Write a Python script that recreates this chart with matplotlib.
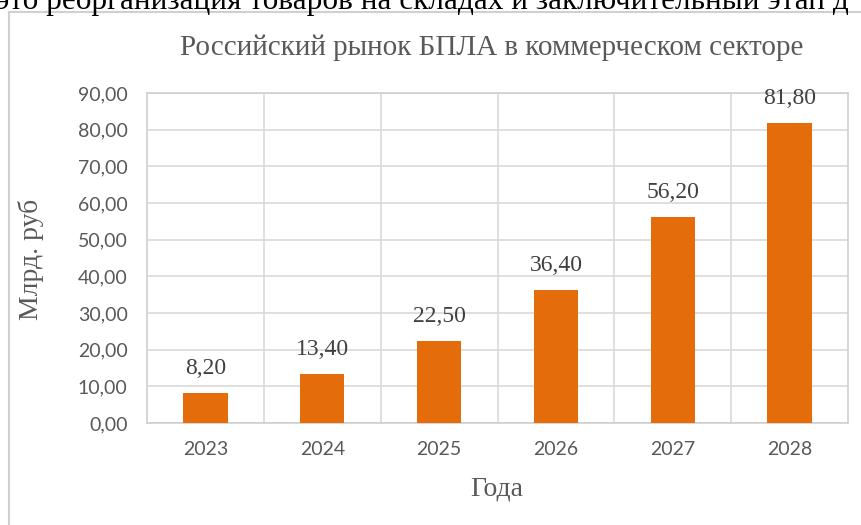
import matplotlib
matplotlib.use("Agg")
import matplotlib.pyplot as plt
from matplotlib.patches import Rectangle
from matplotlib.ticker import FixedLocator

years = ["2023", "2024", "2025", "2026", "2027", "2028"]
values = [8.20, 13.40, 22.50, 36.40, 56.20, 81.80]
yticks = [0, 10, 20, 30, 40, 50, 60, 70, 80, 90]

title = "Российский рынок БПЛА в коммерческом секторе"
ylabel = "Млрд. руб"
xlabel = "Года"
page_text = "это реорганизация товаров на складах и заключительный этап д"

W, H = 861, 525
fig = plt.figure(figsize=(W / 100, H / 100), dpi=100)
fig.patch.set_facecolor("white")

# chart frame (Word/Excel chart object border)
fig.patches.append(Rectangle((9 / W, -0.1), 1.2, 1.1 - 12 / H, transform=fig.transFigure,
                             fill=False, edgecolor="#d0d0d0", linewidth=1.5, zorder=0))
# page text partially hidden at top
fig.text(-4 / W, 1 - 9 / H, page_text, fontsize=22.5, family="Liberation Serif",
         color="black", ha="left", va="baseline")

ax = fig.add_axes([147 / W, 1 - 423 / H, 701 / W, 330 / H])
x = list(range(len(years)))
bars = ax.bar(x, values, width=0.38, color="#E46C0A", zorder=3)

ax.set_xlim(-0.5, len(years) - 0.5)
ax.set_ylim(0, 90)
ax.set_yticks(yticks)
ax.set_yticklabels([f"{v:.2f}".replace(".", ",") for v in yticks])
ax.set_xticks(x)
ax.set_xticklabels(years)
ax.xaxis.set_minor_locator(FixedLocator([i + 0.5 for i in range(len(years) - 1)]))
ax.grid(axis="y", which="major", color="#d9d9d9", linewidth=1.2, zorder=0)
ax.grid(axis="x", which="minor", color="#d9d9d9", linewidth=1.2, zorder=0)
ax.tick_params(axis="both", which="both", length=0)
ax.tick_params(axis="y", pad=14, labelsize=14, labelcolor="#595959")
ax.tick_params(axis="x", pad=13, labelsize=14, labelcolor="#595959")
for lab in ax.get_xticklabels() + ax.get_yticklabels():
    lab.set_family("Lato")
for s in ax.spines.values():
    s.set_color("#d0d0d0")
    s.set_linewidth(1.2)

for b, v in zip(bars, values):
    ax.annotate(f"{v:.2f}".replace(".", ","), (b.get_x() + b.get_width() / 2, v),
                xytext=(0, 10), textcoords="offset points", ha="center", va="bottom",
                fontsize=17, family="Liberation Serif", color="#404040")

fig.text(492 / W, 1 - 48 / H, title, fontsize=21, family="Liberation Serif",
         color="#595959", ha="center", va="center")
fig.text(31 / W, 1 - 259 / H, ylabel, fontsize=20, family="Liberation Serif",
         color="#595959", ha="center", va="center", rotation=90)
fig.text(497 / W, 1 - 489 / H, xlabel, fontsize=20, family="Liberation Serif",
         color="#595959", ha="center", va="center")

fig.savefig("out.png", dpi=100)
